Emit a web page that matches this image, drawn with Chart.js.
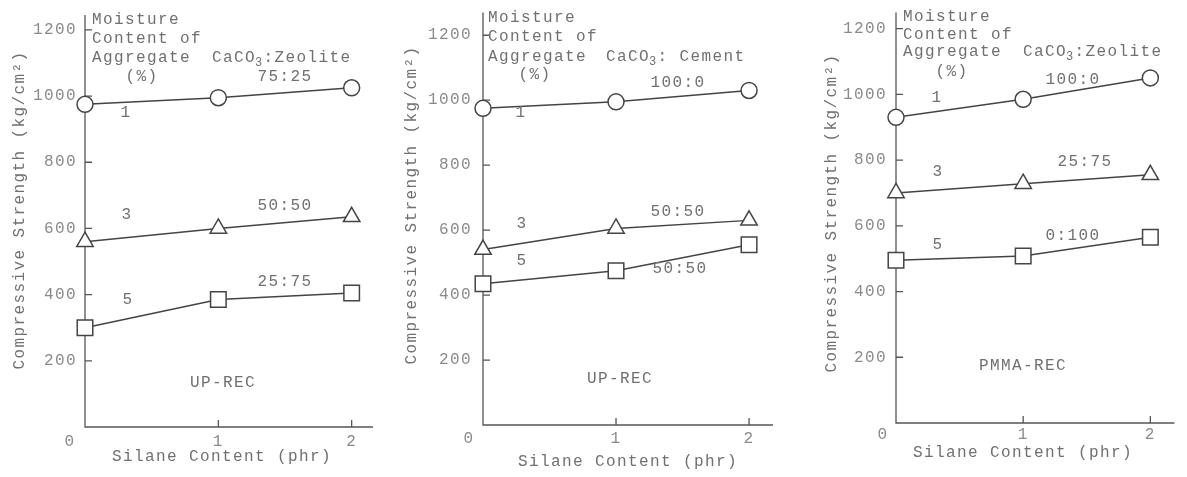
<!DOCTYPE html>
<html><head><meta charset="utf-8">
<script src="https://cdn.jsdelivr.net/npm/chart.js@4.4.0/dist/chart.umd.min.js"></script>
<style>
html,body{margin:0;padding:0;background:#fff;width:1187px;height:477px;overflow:hidden}
.p{position:absolute;top:0;height:477px}
canvas{display:block}
</style></head><body>
<div class="p" style="left:0;width:395px"><canvas id="c1" width="395" height="477"></canvas></div>
<div class="p" style="left:395px;width:395px"><canvas id="c2" width="395" height="477"></canvas></div>
<div class="p" style="left:790px;width:397px"><canvas id="c3" width="397" height="477"></canvas></div>
<script>
// ---- data ----
const silane = [0, 1, 2];
const xTickLabels = ['0', '1', '2'];
const yTicks = [200, 400, 600, 800, 1000, 1200];
const moistureLabels = ['1', '3', '5'];
// Panel A: UP-REC, CaCO3:Zeolite
const upZeoliteM1 = [975, 995, 1025];
const upZeoliteM3 = [560, 600, 635];
const upZeoliteM5 = [300, 385, 405];
const ratiosA = ['75:25', '50:50', '25:75'];
// Panel B: UP-REC, CaCO3:Cement
const upCementM1 = [975, 995, 1030];
const upCementM3 = [540, 605, 630];
const upCementM5 = [435, 475, 555];
const ratiosB = ['100:0', '50:50', '50:50'];
// Panel C: PMMA-REC, CaCO3:Zeolite
const pmmaZeoliteM1 = [930, 985, 1050];
const pmmaZeoliteM3 = [700, 728, 755];
const pmmaZeoliteM5 = [495, 508, 565];
const ratiosC = ['100:0', '25:75', '0:100'];

// ---- styling ----
const FONT = '16px "Liberation Mono", "DejaVu Sans Mono", monospace';
const SUBFONT = '12px "Liberation Mono", "DejaVu Sans Mono", monospace';
const LINE = '#444';
const AXIS = '#555';
const TXT = '#707070';
const TICKTXT = '#8a8a8a';

function setFont(ctx, f) { ctx.font = f; try { ctx.letterSpacing = '1.4px'; } catch (e) {} }
function txt(ctx, s, x, y, align, color) {
  ctx.textAlign = align; ctx.fillStyle = color || TXT; ctx.fillText(s, x, y);
}
function chem(ctx, x, y, rest) {
  setFont(ctx, FONT); ctx.textAlign = 'left'; ctx.fillStyle = TXT;
  ctx.fillText('CaCO', x, y);
  let w = ctx.measureText('CaCO').width;
  setFont(ctx, SUBFONT);
  ctx.fillText('3', x + w - 1, y + 5);
  let w2 = ctx.measureText('3').width;
  setFont(ctx, FONT);
  ctx.fillText(rest, x + w + w2 - 1, y);
}

function decoPlugin(p) {
  return {
    id: 'deco',
    beforeDatasetsDraw(chart) {
      const ctx = chart.ctx, xs = chart.scales.x, ys = chart.scales.y;
      const x0 = xs.getPixelForValue(0), y0 = ys.getPixelForValue(0);
      ctx.save();
      ctx.strokeStyle = AXIS; ctx.lineWidth = 1.3;
      ctx.beginPath();
      ctx.moveTo(x0, ys.getPixelForValue(ys.max)); ctx.lineTo(x0, y0);
      ctx.lineTo(xs.getPixelForValue(xs.max), y0);
      yTicks.forEach(v => { const y = ys.getPixelForValue(v); ctx.moveTo(x0, y); ctx.lineTo(x0 + 7, y); });
      silane.slice(1).forEach(v => { const x = xs.getPixelForValue(v); ctx.moveTo(x, y0); ctx.lineTo(x, y0 - 7); });
      ctx.stroke();
      ctx.restore();
    },
    afterDraw(chart) {
      const ctx = chart.ctx, xs = chart.scales.x, ys = chart.scales.y;
      ctx.save();
      setFont(ctx, FONT); ctx.textBaseline = 'middle';
      // y tick labels
      yTicks.forEach(v => txt(ctx, String(v), p.yLabRight, ys.getPixelForValue(v), 'right', TICKTXT));
      // x tick labels
      silane.forEach((v, i) => {
        const x = i === 0 ? p.x0Lab : xs.getPixelForValue(v);
        txt(ctx, xTickLabels[i], x, p.xLabY, 'center', TICKTXT);
      });
      // x title
      txt(ctx, 'Silane Content (phr)', p.xTitle[0], p.xTitle[1], 'center', TXT);
      // y title
      ctx.save();
      ctx.translate(p.yTitle[0], p.yTitle[1]); ctx.rotate(-Math.PI / 2);
      txt(ctx, 'Compressive Strength (kg/cm²)', 0, 0, 'center', TXT);
      ctx.restore();
      // header annotation
      const hx = p.head[0], hy = p.head[1];
      txt(ctx, 'Moisture', hx, hy[0], 'left');
      txt(ctx, 'Content of', hx, hy[1], 'left');
      txt(ctx, 'Aggregate', hx, hy[2], 'left');
      chem(ctx, p.chem[0], hy[2], p.chemRest);
      txt(ctx, '(%)', p.pct[0], p.pct[1], 'center');
      // series labels
      p.moist.forEach((m, i) => txt(ctx, moistureLabels[i], m[0], m[1], 'center'));
      p.ratios.forEach((r, i) => txt(ctx, p.ratioText[i], r[0], r[1], 'center'));
      txt(ctx, p.name, p.nameXY[0], p.nameXY[1], 'center');
      ctx.restore();
    }
  };
}

function ds(data, style, r) {
  return {
    data: silane.map((x, i) => ({ x: x, y: data[i] })),
    borderColor: LINE, borderWidth: 1.5, tension: 0, clip: false,
    pointStyle: style, pointRadius: r, pointHoverRadius: r,
    pointBackgroundColor: '#fff', pointBorderColor: LINE, pointBorderWidth: 1.5
  };
}

function make(id, series, pad, xmax, ymax, p) {
  new Chart(document.getElementById(id), {
    type: 'line',
    data: { datasets: [ds(series[0], 'circle', 8), ds(series[1], 'triangle', 9.5), ds(series[2], 'rect', 11)] },
    options: {
      responsive: false, animation: false, devicePixelRatio: 1,
      layout: { padding: pad },
      plugins: { legend: { display: false }, tooltip: { enabled: false } },
      events: [],
      scales: {
        x: { type: 'linear', min: 0, max: xmax, display: false },
        y: { type: 'linear', min: 0, max: ymax, display: false }
      }
    },
    plugins: [decoPlugin(p)]
  });
}

make('c1', [upZeoliteM1, upZeoliteM3, upZeoliteM5], { left: 85, right: 22, top: 15, bottom: 50 }, 2.16, 1245, {
  yLabRight: 77, x0Lab: 70, xLabY: 442, xTitle: [222, 457], yTitle: [20, 210],
  head: [92, [20, 39, 58]], chem: [212], chemRest: ':Zeolite', pct: [142, 77],
  moist: [[126, 113], [127, 215], [128, 300]],
  ratios: [[285, 77], [285, 206], [285, 282]], ratioText: ratiosA,
  name: 'UP-REC', nameXY: [223, 383]
});
make('c2', [upCementM1, upCementM3, upCementM5], { left: 88, right: 17, top: 7, bottom: 52 }, 2.18, 1270, {
  yLabRight: 77, x0Lab: 74, xLabY: 439, xTitle: [233, 462], yTitle: [17, 205],
  head: [93, [18, 37, 57]], chem: [211], chemRest: ': Cement', pct: [140, 75],
  moist: [[126, 113], [127, 224], [127, 261]],
  ratios: [[283, 83], [283, 212], [285, 269]], ratioText: ratiosB,
  name: 'UP-REC', nameXY: [225, 379]
});
make('c3', [pmmaZeoliteM1, pmmaZeoliteM3, pmmaZeoliteM5], { left: 106, right: 0, top: 12, bottom: 54 }, 2.19, 1249, {
  yLabRight: 97, x0Lab: 93, xLabY: 435, xTitle: [233, 453], yTitle: [42, 213],
  head: [113, [17, 35, 52]], chem: [233], chemRest: ':Zeolite', pct: [162, 72],
  moist: [[147, 98], [148, 172], [148, 245]],
  ratios: [[283, 80], [295, 162], [283, 236]], ratioText: ratiosC,
  name: 'PMMA-REC', nameXY: [233, 366]
});
</script>
</body></html>
